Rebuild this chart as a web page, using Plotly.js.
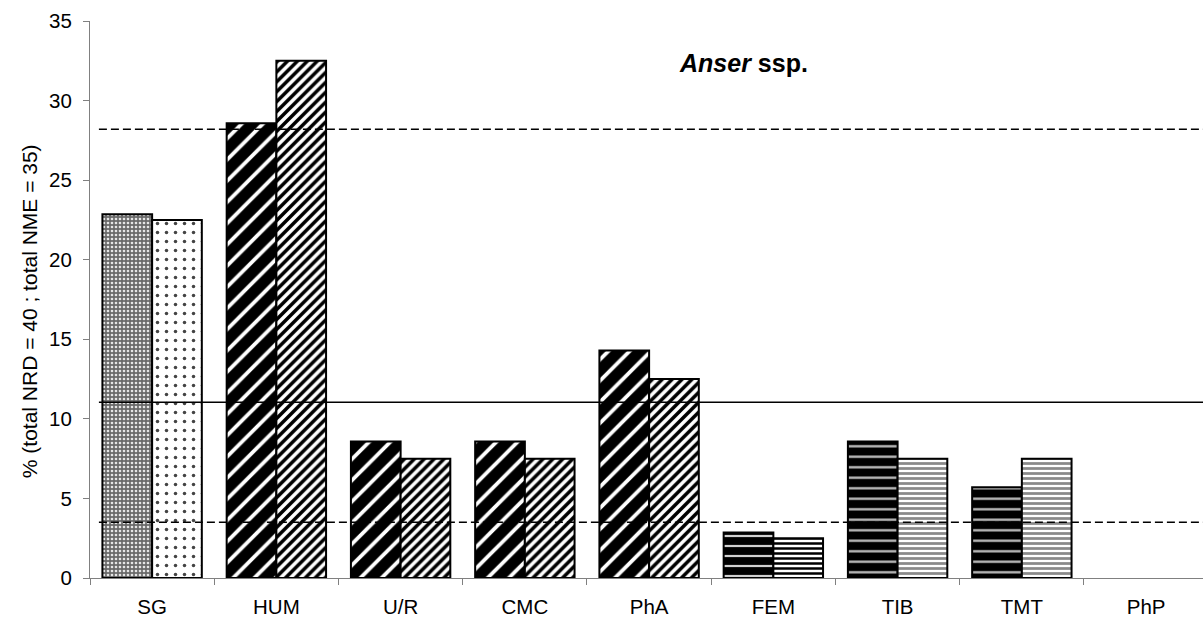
<!DOCTYPE html>
<html>
<head>
<meta charset="utf-8">
<script src="https://cdn.plot.ly/plotly-3.0.1.min.js"></script>
<style>html,body{margin:0;padding:0;background:#fff;}#chart{width:1203px;height:619px;}</style>
</head>
<body>
<div id="chart"></div>
<script>
// Data
const categories = ["SG", "HUM", "U/R", "CMC", "PhA", "FEM", "TIB", "TMT", "PhP"];
const nmeValues = [22.86, 28.57, 8.57, 8.57, 14.29, 2.86, 8.57, 5.71, 0];   // total NME = 35
const nrdValues = [22.5, 32.5, 7.5, 7.5, 12.5, 2.5, 7.5, 7.5, 0];          // total NRD = 40
const refDashedHigh = 28.2;
const refSolid = 11.05;
const refDashedLow = 3.5;
const titleText = "<b><i>Anser</i> ssp.</b>";
const yTitle = "% (total NRD = 40 ; total NME = 35)";

// Pattern styles per bone group
const grp = ["sg", "diag", "diag", "diag", "diag", "fem", "horiz", "horiz", "horiz"];
const nmeStyle = {
  sg:    {shape: ".", fg: "#e6e6e6", bg: "#6a6a6a", size: 4, sol: 0.35},
  diag:  {shape: "/", fg: "#ffffff", bg: "#000000", size: 15, sol: 0.25},
  fem:   {shape: "-", fg: "#d0d0d0", bg: "#000000", size: 10, sol: 0.22},
  horiz: {shape: "-", fg: "#c0c0c0", bg: "#000000", size: 10.5, sol: 0.22}
};
const nrdStyle = {
  sg:    {shape: ".", fg: "#444444", bg: "#ffffff", size: 9, sol: 0.12},
  diag:  {shape: "/", fg: "#000000", bg: "#ffffff", size: 7, sol: 0.5},
  fem:   {shape: "-", fg: "#000000", bg: "#ffffff", size: 5, sol: 0.5},
  horiz: {shape: "-", fg: "#8a8a8a", bg: "#ffffff", size: 5, sol: 0.55}
};
function pat(style) {
  return {
    shape: grp.map(g => style[g].shape),
    fgcolor: grp.map(g => style[g].fg),
    bgcolor: grp.map(g => style[g].bg),
    size: grp.map(g => style[g].size),
    solidity: grp.map(g => style[g].sol),
    fillmode: "replace"
  };
}
function outline(vals) { return vals.map(v => (v > 0 ? 2 : 0)); }

const traces = [
  {type: "bar", x: categories, y: nmeValues, name: "NME",
   marker: {color: "#000", pattern: pat(nmeStyle), line: {color: "#000", width: outline(nmeValues)}},
   hoverinfo: "y"},
  {type: "bar", x: categories, y: nrdValues, name: "NRD",
   marker: {color: "#fff", pattern: pat(nrdStyle), line: {color: "#000", width: outline(nrdValues)}},
   hoverinfo: "y"}
];

const refLines = [
  {y: refDashedHigh, dash: "dash"},
  {y: refSolid, dash: "solid"},
  {y: refDashedLow, dash: "dash"}
];
const shapes = refLines.map(r => ({
  type: "line", xref: "paper", yref: "y", x0: 0.008, x1: 1, y0: r.y, y1: r.y,
  line: {color: "#000", width: 1.5, dash: r.dash === "dash" ? "8px,4px" : "solid"},
  layer: "above"
}));

const layout = {
  width: 1203, height: 619,
  margin: {l: 90, r: 0, t: 21, b: 41},
  paper_bgcolor: "#fff", plot_bgcolor: "#fff",
  font: {family: "Liberation Sans, Arial, sans-serif", color: "#000", size: 20},
  showlegend: false,
  barmode: "group",
  bargap: 0.2, bargroupgap: 0,
  xaxis: {
    type: "category", range: [-0.5, 8.458],
    showline: true, linecolor: "#808080", linewidth: 1,
    ticks: "outside", tickson: "boundaries", ticklen: 6, tickcolor: "#808080",
    ticklabelstandoff: 10,
    showgrid: false, zeroline: false,
    tickfont: {size: 20.5}
  },
  yaxis: {
    range: [0, 35], dtick: 5, tick0: 0,
    showline: true, linecolor: "#808080", linewidth: 1,
    ticks: "outside", ticklen: 6, tickcolor: "#808080",
    ticklabelstandoff: 7,
    showgrid: false, zeroline: false,
    tickfont: {size: 20.5}
  },
  shapes: shapes,
  annotations: [
    {
      text: titleText, xref: "paper", yref: "paper", x: 0.5872, y: 0.925,
      xanchor: "center", yanchor: "middle", showarrow: false,
      font: {size: 25, color: "#000"}
    },
    {
      text: yTitle, xref: "paper", yref: "paper", x: -0.0548, y: 0.479,
      xanchor: "center", yanchor: "middle", showarrow: false, textangle: -90,
      font: {size: 21, color: "#000"}
    }
  ]
};

Plotly.newPlot("chart", traces, layout, {displayModeBar: false, staticPlot: true});
</script>
</body>
</html>
